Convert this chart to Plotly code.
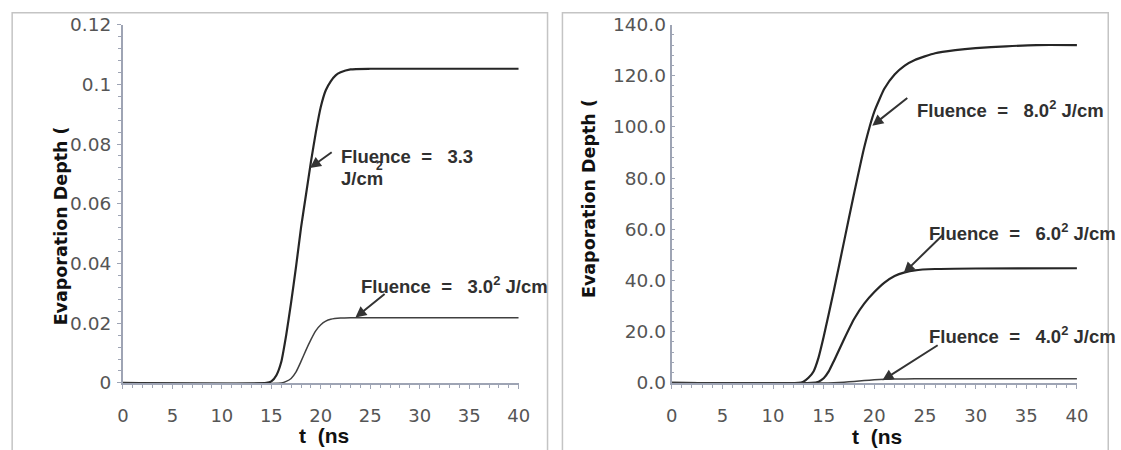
import plotly.graph_objects as go

W, H = 1121, 450

# ---------------- data ----------------
# Left panel: evaporation depth vs time
t_f33 = [0, 14.5, 15, 15.5, 16, 16.5, 17, 17.5, 18, 18.5, 19, 19.5, 20, 20.5, 21, 21.5, 22, 23, 25, 30, 35, 40]
d_f33 = [0, 0, 0.0005, 0.0025, 0.007, 0.016, 0.027, 0.039, 0.052, 0.063, 0.074, 0.084, 0.0925, 0.098, 0.101, 0.103, 0.104, 0.105, 0.1052, 0.1052, 0.1052, 0.1052]

t_f30 = [0, 16, 16.5, 17, 17.5, 18, 18.5, 19, 19.5, 20, 20.5, 21, 22, 23, 25, 30, 35, 40]
d_f30 = [0, 0, 0.0005, 0.0015, 0.0037, 0.0072, 0.011, 0.0145, 0.0175, 0.0195, 0.0207, 0.0213, 0.0217, 0.0218, 0.0218, 0.0218, 0.0218, 0.0218]

# Right panel
t_f80 = [0, 12.5, 13, 13.5, 14, 14.5, 15, 16, 17, 18, 19, 20, 21, 22, 23, 24, 26, 28, 30, 33, 36, 40]
d_f80 = [0, 0, 0.5, 2, 4.5, 10, 18, 36, 55, 74, 92, 106, 115, 120.5, 124, 126.2, 128.8, 130, 130.8, 131.5, 132, 132]

t_f60 = [0, 13.8, 14.5, 15, 15.5, 16, 17, 18, 19, 20, 21, 22, 23, 24, 26, 30, 40]
d_f60 = [0, 0, 0.5, 1.8, 4.5, 8.5, 17, 25, 31, 35.5, 39.2, 41.8, 43.2, 44, 44.5, 44.7, 44.8]

t_f40 = [0, 15, 16, 17, 18, 19, 20, 21, 22, 24, 30, 40]
d_f40 = [0, 0, 0.1, 0.3, 0.6, 0.9, 1.2, 1.4, 1.5, 1.6, 1.6, 1.6]

x_ticks = [0, 5, 10, 15, 20, 25, 30, 35, 40]
y_left_ticks = [0, 0.02, 0.04, 0.06, 0.08, 0.1, 0.12]
y_right_ticks = [0, 20, 40, 60, 80, 100, 120, 140]

y_title = "Evaporation Depth ("
x_title = "t\u00a0\u00a0(ns"


# screen pixel -> paper fraction (page is shown slightly scaled/offset)
def PX(X):
    return ((X - 2.8) / 0.9915) / W


def PY(Y):
    return 1 - ((Y - 8.3) / 0.963) / H


# ---------------- figure ----------------
fig = go.Figure()
line_dark = dict(color="#262626", width=2.2, shape="spline", smoothing=0.5)
line_thin = dict(color="#404040", width=1.5, shape="spline", smoothing=0.5)

fig.add_trace(go.Scatter(x=t_f33, y=d_f33, mode="lines", line=line_dark, xaxis="x", yaxis="y"))
fig.add_trace(go.Scatter(x=t_f30, y=d_f30, mode="lines", line=line_thin, xaxis="x", yaxis="y"))
fig.add_trace(go.Scatter(x=t_f80, y=d_f80, mode="lines", line=line_dark, xaxis="x2", yaxis="y2"))
fig.add_trace(go.Scatter(x=t_f60, y=d_f60, mode="lines", line=line_dark, xaxis="x2", yaxis="y2"))
fig.add_trace(go.Scatter(x=t_f40, y=d_f40, mode="lines", line=line_thin, xaxis="x2", yaxis="y2"))

axis_col = "#9ea4b4"
tick_font = dict(family="DejaVu Sans", size=18, color="#555555")
ytick_font = dict(family="DejaVu Sans", size=18.5, color="#555555")
ydom = [PY(384), PY(22)]

common_x = dict(range=[0, 40], tickvals=x_ticks, showgrid=False, zeroline=False,
                showline=True, linecolor=axis_col, linewidth=2, ticks="outside",
                ticklen=4, tickcolor=axis_col, tickwidth=1, tickfont=tick_font,
                ticklabelstandoff=11,
                minor=dict(dtick=1, ticks="outside", ticklen=3, tickcolor=axis_col))
fig.update_layout(
    width=W, height=H, autosize=False,
    margin=dict(l=0, r=0, t=0, b=0),
    paper_bgcolor="white", plot_bgcolor="white",
    showlegend=False,
    xaxis=dict(domain=[PX(120.5), PX(519)], anchor="y", **common_x),
    xaxis2=dict(domain=[PX(673), PX(1081)], anchor="y2", **common_x),
    yaxis=dict(domain=ydom, anchor="x", range=[0, 0.12], tickvals=y_left_ticks,
               showgrid=False, zeroline=False, showline=True, linecolor=axis_col,
               linewidth=2, ticks="outside", ticklen=4, tickcolor=axis_col,
               tickfont=ytick_font, ticklabelstandoff=2,
               minor=dict(dtick=0.004, ticks="outside", ticklen=3, tickcolor=axis_col)),
    yaxis2=dict(domain=ydom, anchor="x2", range=[0, 140], tickvals=y_right_ticks,
                tickformat=".1f", showgrid=False, zeroline=False, showline=True,
                linecolor=axis_col, linewidth=2, ticks="inside", ticklen=3,
                tickcolor=axis_col, tickfont=ytick_font, ticklabelstandoff=0,
                minor=dict(dtick=4, ticks="inside", ticklen=2, tickcolor=axis_col)),
)

# panel frames
frame = dict(color="#c4c4c4", width=1.5)
fig.add_shape(type="rect", xref="paper", yref="paper", x0=PX(9), x1=PX(548),
              y0=-0.1, y1=PY(10), line=frame, layer="below")
fig.add_shape(type="rect", xref="paper", yref="paper", x0=PX(563), x1=PX(1112.5),
              y0=-0.1, y1=PY(10), line=frame, layer="below")

# axis titles
ttl_font = dict(family="DejaVu Sans", size=17.5, color="#111111", weight="bold")
fig.add_annotation(text=y_title, xref="paper", yref="paper", x=PX(58), y=PY(225),
                   xanchor="center", yanchor="middle", textangle=-90, showarrow=False,
                   font=ttl_font)
fig.add_annotation(text=y_title, xref="paper", yref="paper", x=PX(590), y=PY(198),
                   xanchor="center", yanchor="middle", textangle=-90, showarrow=False,
                   font=ttl_font)
xt_font = dict(family="Liberation Sans", size=21, color="#111111", weight="bold")
fig.add_annotation(text=x_title, xref="paper", yref="paper", x=PX(323), y=PY(437),
                   xanchor="center", yanchor="middle", showarrow=False, font=xt_font)
fig.add_annotation(text=x_title, xref="paper", yref="paper", x=PX(880), y=PY(438),
                   xanchor="center", yanchor="middle", showarrow=False, font=xt_font)

# labels and arrows
lab_font = dict(family="Liberation Sans", size=18.5, color="#303030", weight="bold")
s2 = "\u00a0\u00a0"
s3 = "\u00a0\u00a0\u00a0"


def label(text, x, y, xr, yr):
    fig.add_annotation(text=text, x=x, y=y, xref=xr, yref=yr, xanchor="left",
                       yanchor="middle", showarrow=False, font=lab_font)


def arrow(tip, tail, xr, yr):
    fig.add_annotation(text="", x=tip[0], y=tip[1], ax=tail[0], ay=tail[1],
                       xref=xr, yref=yr, axref=xr, ayref=yr, showarrow=True,
                       arrowhead=2, arrowsize=1.1, arrowwidth=2, arrowcolor="#333333",
                       standoff=0, startstandoff=0)


label("Fluence" + s2 + "=" + s3 + "3.3", 21.85, 0.0759, "x", "y")
label("J/cm", 21.85, 0.0686, "x", "y")
fig.add_annotation(text="2", x=25.9, y=0.0727, xref="x", yref="y", showarrow=False,
                   font=dict(family="Liberation Sans", size=12, color="#303030", weight="bold"))
arrow((18.9, 0.072), (21.25, 0.0776), "x", "y")

label("Fluence" + s2 + "=" + s3 + "3.0<sup>2</sup> J/cm", 23.9, 0.0328, "x", "y")
arrow((23.5, 0.0219), (26.6, 0.0302), "x", "y")

label("Fluence" + s2 + "=" + s3 + "8.0<sup>2</sup> J/cm", 24.0, 107.1, "x2", "y2")
arrow((19.8, 100.5), (23.4, 111.8), "x2", "y2")

label("Fluence" + s2 + "=" + s3 + "6.0<sup>2</sup> J/cm", 25.2, 58.8, "x2", "y2")
arrow((22.9, 42.9), (26.9, 58.4), "x2", "y2")

label("Fluence" + s2 + "=" + s3 + "4.0<sup>2</sup> J/cm", 25.2, 18.9, "x2", "y2")
arrow((20.8, 1.0), (26.4, 15.1), "x2", "y2")

fig.write_html("out.html")
